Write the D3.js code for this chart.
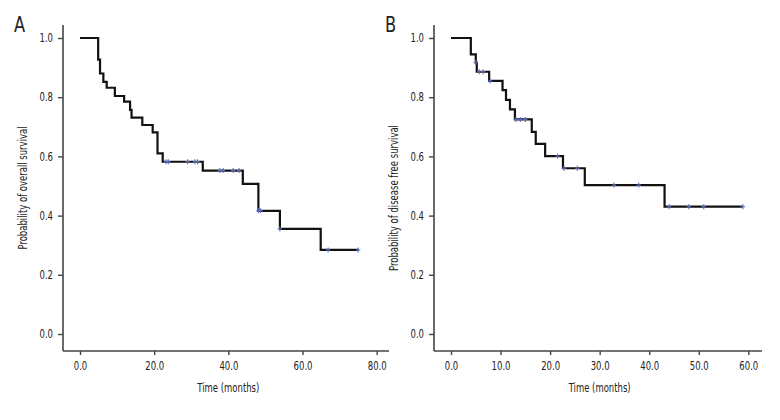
<!DOCTYPE html>
<html><head><meta charset="utf-8">
<script src="https://cdn.jsdelivr.net/npm/d3@7"></script>
<style>
body{margin:0;background:#fff;}
text{font-family:"DejaVu Sans Condensed","DejaVu Sans",sans-serif;font-stretch:condensed;fill:#222;}
</style></head>
<body>
<svg id="chart" width="780" height="420"></svg>
<script>
// ---- Data ----
const yTicks = [0, 0.2, 0.4, 0.6, 0.8, 1.0];
const xTicksA = [0, 20, 40, 60, 80];
const xTicksB = [0, 10, 20, 30, 40, 50, 60];

const eventTimesA = [4.9, 5.4, 6.3, 7.2, 9.4, 11.9, 13.5, 13.9, 16.8, 19.6, 20.9, 22.3, 33.1, 43.9, 48.1, 53.9, 64.9];
const survA       = [0.927, 0.88, 0.852, 0.832, 0.804, 0.785, 0.757, 0.731, 0.706, 0.681, 0.61, 0.582, 0.552, 0.507, 0.416, 0.355, 0.284];
const censorA     = [23.2, 23.8, 29.0, 31.0, 31.7, 37.7, 38.6, 41.3, 42.9, 48.1, 48.7, 53.9, 66.9, 75.0];

const eventTimesB = [4.0, 5.0, 5.2, 7.7, 10.4, 11.1, 11.9, 12.9, 16.3, 17.1, 19.0, 22.6, 27.0, 43.1];
const survB       = [0.945, 0.917, 0.886, 0.855, 0.824, 0.791, 0.759, 0.725, 0.683, 0.642, 0.601, 0.56, 0.503, 0.43];
const censorB     = [5.0, 5.7, 6.5, 7.9, 13.1, 14.0, 15.0, 21.5, 22.8, 25.5, 32.9, 37.9, 44.0, 48.0, 51.0, 58.9];

const panels = [
  {letter:"A", ylabel:"Probability of overall survival", xTicks:xTicksA, xMax:80,
   times:eventTimesA, surv:survA, cens:censorA,
   xr:[80, 376.7], axisX:63, axisEnd:389, letterX:14, ylabX:27, ylabY:188},
  {letter:"B", ylabel:"Probability of disease free survival", xTicks:xTicksB, xMax:60,
   times:eventTimesB, surv:survB, cens:censorB,
   xr:[451, 748.3], axisX:434, axisEnd:762, letterX:385, ylabX:398, ylabY:198}
];

const svg = d3.select("#chart");
const yTop = 25, yBase = 351;
const fmt = d3.format(".1f");
const axisColor = "#444";
const fs = 11.5;

panels.forEach(p => {
  const x = d3.scaleLinear().domain([0, p.xMax]).range(p.xr);
  const y = d3.scaleLinear().domain([0, 1]).range([334, 38]);
  const g = svg.append("g");

  // axis lines
  g.append("line").attr("x1", p.axisX).attr("x2", p.axisX).attr("y1", yTop).attr("y2", yBase)
    .attr("stroke", axisColor).attr("stroke-width", 1.6);
  g.append("line").attr("x1", p.axisX).attr("x2", p.axisEnd).attr("y1", yBase).attr("y2", yBase)
    .attr("stroke", axisColor).attr("stroke-width", 1.6);

  // y axis
  const ya = g.append("g").attr("transform", `translate(${p.axisX},0)`)
    .call(d3.axisLeft(y).tickValues(yTicks).tickFormat(fmt).tickSize(5).tickPadding(5));
  ya.select(".domain").remove();
  ya.selectAll(".tick line").attr("stroke", axisColor).attr("stroke-width", 1.4);
  ya.selectAll(".tick text").attr("font-size", fs).attr("fill", "#222");

  // x axis
  const xa = g.append("g").attr("transform", `translate(0,${yBase})`)
    .call(d3.axisBottom(x).tickValues(p.xTicks).tickFormat(fmt).tickSize(4).tickPadding(7));
  xa.select(".domain").remove();
  xa.selectAll(".tick line").attr("stroke", axisColor).attr("stroke-width", 1.4);
  xa.selectAll(".tick text").attr("font-size", fs).attr("fill", "#222");

  // axis titles
  g.append("text").attr("x", (p.xr[0] + p.xr[1]) / 2).attr("y", 392)
    .attr("text-anchor", "middle").attr("font-size", fs).text("Time (months)");
  g.append("text").attr("transform", `translate(${p.ylabX},${p.ylabY}) rotate(-90)`)
    .attr("text-anchor", "middle").attr("font-size", fs).text(p.ylabel);

  // panel letter
  g.append("text").attr("x", p.letterX).attr("y", 32).attr("font-size", 22).text(p.letter);

  // KM step line
  const pts = [[0, 1]].concat(p.times.map((t, i) => [t, p.surv[i]]));
  const lastT = d3.max(p.cens);
  pts.push([lastT, p.surv[p.surv.length - 1]]);
  const line = d3.line().x(d => x(d[0])).y(d => y(d[1])).curve(d3.curveStepAfter);
  g.append("path").datum(pts).attr("d", line).attr("fill", "none")
    .attr("stroke", "#111").attr("stroke-width", 2.2);

  // censor marks
  const survAt = t => {
    let s = 1;
    p.times.forEach((et, i) => { if (et <= t) s = p.surv[i]; });
    return s;
  };
  const cg = g.selectAll(".cens").data(p.cens).enter().append("g")
    .attr("transform", d => `translate(${x(d)},${y(survAt(d))})`);
  cg.append("line").attr("x1", 0).attr("x2", 0).attr("y1", -2.5).attr("y2", 2.5)
    .attr("stroke", "#5a6cc0").attr("stroke-width", 1.1);
  cg.append("line").attr("x1", -2.2).attr("x2", 2.2).attr("y1", 0).attr("y2", 0)
    .attr("stroke", "#5a6cc0").attr("stroke-width", 1.1);
});

// condense all text horizontally to mimic the narrow original typeface
svg.selectAll("text").attr("font-family", null).each(function() {
  const L = this.getComputedTextLength();
  d3.select(this).attr("textLength", L * 0.82).attr("lengthAdjust", "spacingAndGlyphs");
});
</script>
</body></html>
